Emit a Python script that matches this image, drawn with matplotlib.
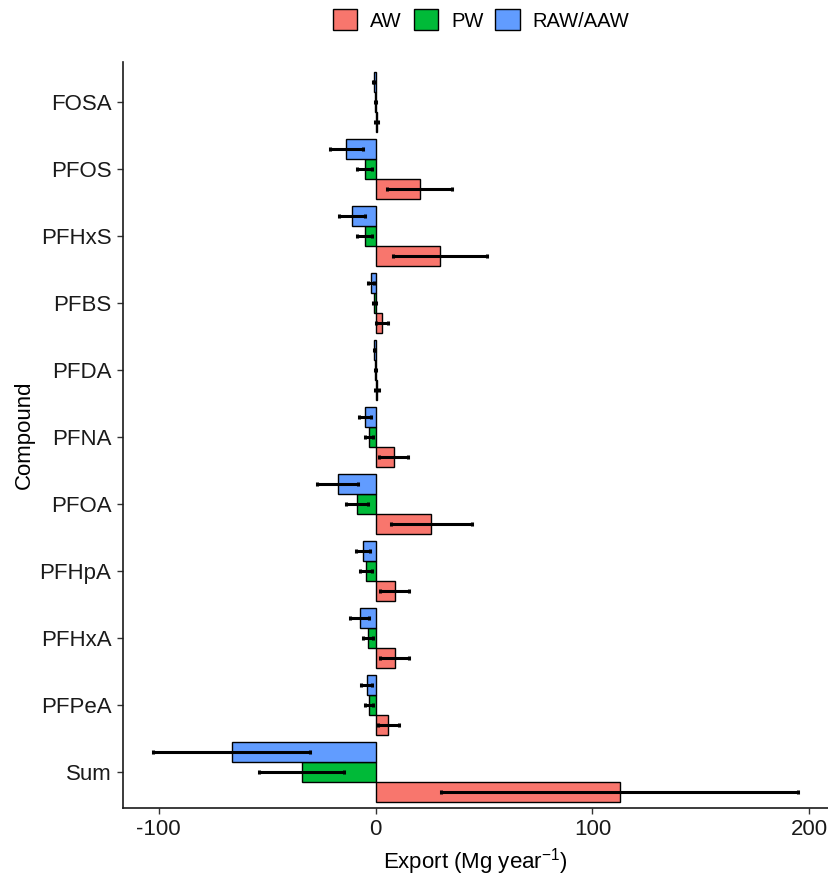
import numpy as np
import matplotlib
matplotlib.use("Agg")
import matplotlib.pyplot as plt
from matplotlib.patches import Patch

plt.rcParams['font.family'] = ['Liberation Sans', 'DejaVu Sans']
plt.rcParams['mathtext.fontset'] = 'custom'
plt.rcParams['mathtext.rm'] = 'Liberation Sans'
plt.rcParams['mathtext.it'] = 'Liberation Sans'

# categories, bottom to top
compounds = ['Sum', 'PFPeA', 'PFHxA', 'PFHpA', 'PFOA', 'PFNA', 'PFDA', 'PFBS', 'PFHxS', 'PFOS', 'FOSA']

# mean export (Mg/year) and error half-widths
aw = [112.5, 5.9, 8.8, 8.9, 25.7, 8.4, 0.6, 3.0, 29.8, 20.3, 0.5]
aw_err = [82.3, 4.7, 6.8, 6.7, 18.6, 6.6, 0.8, 2.9, 21.8, 14.8, 0.6]
pw = [-34.0, -3.0, -3.5, -4.5, -8.4, -3.0, -0.2, -0.5, -5.1, -5.1, -0.1]
pw_err = [19.6, 2.0, 2.3, 2.8, 5.1, 2.0, 0.2, 0.7, 3.3, 3.3, 0.3]
raw = [-66.3, -4.1, -7.4, -5.7, -17.5, -4.7, -0.5, -2.1, -10.7, -13.5, -0.9]
raw_err = [36.2, 2.5, 4.3, 3.2, 9.5, 2.8, 0.3, 1.6, 6.0, 7.5, 0.4]

series = ['AW', 'PW', 'RAW/AAW']
colors = ['#F8766D', '#00BA38', '#619CFF']

fig = plt.figure(figsize=(8.29, 8.76), dpi=100)
ax = fig.add_axes([122.5/829, 1 - 808/876, 1 - 122.5/829, (808 - 62)/876])

y = np.arange(len(compounds))
h = 0.3
for k, (vals, errs) in enumerate([(aw, aw_err), (pw, pw_err), (raw, raw_err)]):
    pos = y + (k - 1) * h
    ax.barh(pos, vals, height=h, color=colors[k], edgecolor='black', linewidth=1.0, zorder=2)
    ax.errorbar(vals, pos, xerr=errs, fmt='none', ecolor='black', elinewidth=2.2,
                capsize=1.6, capthick=2.2, zorder=3)

ax.set_xlim(-116.7, 209.1)
ax.set_ylim(-0.54, len(compounds) - 0.4)
ax.set_yticks(y)
ax.set_yticklabels(compounds)
ax.set_xticks([-100, 0, 100, 200])
ax.set_xticklabels(['-100', '0', '100', '200'])
ax.tick_params(labelsize=16, length=4.5, width=1, color='#333333', labelcolor='#1a1a1a')
for s in ['top', 'right']:
    ax.spines[s].set_visible(False)
for s in ['left', 'bottom']:
    ax.spines[s].set_linewidth(1.2)
    ax.spines[s].set_color('#1a1a1a')

ax.set_xlabel('Export (Mg year$^{-1}$)', fontsize=16, labelpad=4)
ax.set_ylabel('Compound', fontsize=16, labelpad=3)

handles = [Patch(facecolor=c, edgecolor='black', linewidth=1.0) for c in colors]
fig.legend(handles, series, loc='center', bbox_to_anchor=(481/829, 1 - 20/876), ncol=3,
           frameon=False, fontsize=14.5, handlelength=1.2, handleheight=1.2,
           handletextpad=0.65, columnspacing=0.6)

fig.savefig('out.png', dpi=100)
